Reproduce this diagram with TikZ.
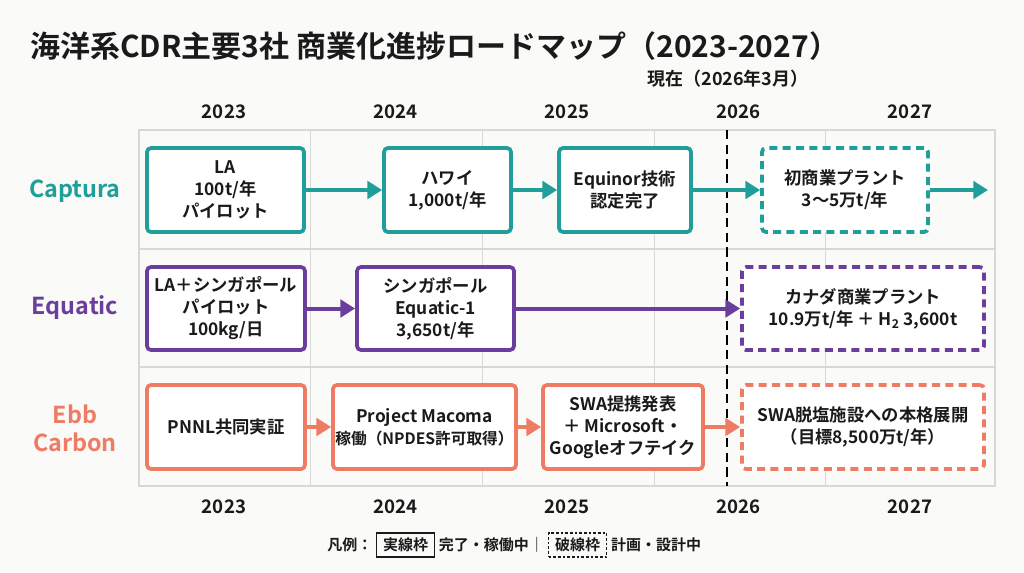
\documentclass[tikz,border=0pt]{standalone}
\usepackage{fontspec}
\setmainfont{Noto Sans CJK JP}[BoldFont={Noto Sans CJK JP Bold}]
\usetikzlibrary{positioning,arrows.meta}
\definecolor{captura}{HTML}{1F9E9A}
\definecolor{equatic}{HTML}{6B3E9E}
\definecolor{ebbcarbon}{HTML}{EE7B63}
\definecolor{gridgray}{HTML}{D8D8D8}
\definecolor{paper}{HTML}{FAFAF8}
\definecolor{ink}{HTML}{1A1A1A}
\newcommand{\px}{0.75pt}

\begin{document}
\begin{tikzpicture}[x=0.75pt,y=-0.75pt,
        every node/.style={text=ink,font=\bfseries},
        stage/.style={draw=#1,line width=2.8pt,rounded corners=3pt,fill=white,align=center,inner sep=0pt,
                font=\bfseries\fontsize{13}{16.5}\selectfont},
        plan/.style={stage=#1,dash pattern=on 6pt off 4pt},
        flow/.style={draw=#1,line width=3pt,-{Triangle[length=11pt,width=13pt]}},
        year/.style={font=\bfseries\fontsize{14}{16}\selectfont},
        company/.style={text=#1,align=center,font=\bfseries\fontsize{17.5}{21}\selectfont},
        legend/.style={inner sep=0pt,font=\bfseries\fontsize{11.25}{13}\selectfont}]
        \fill[paper] (0,0) rectangle (1024,572);
        \node[anchor=west,inner sep=0pt,font=\bfseries\fontsize{22.5}{26}\selectfont] (title) at (30,46)
                {海洋系CDR主要3社 商業化進捗ロードマップ（2023-2027）};
        % grid
        \draw[gridgray,line width=0.8pt] (139,130) rectangle (995,486);
        \foreach \gx in {310,482,654,825} \draw[gridgray,line width=0.6pt] (\gx,130) -- (\gx,486);
        \foreach \gy in {249,367} \draw[gridgray,line width=0.8pt] (139,\gy) -- (995,\gy);
        \foreach \yr [count=\i from 0] in {2023,...,2027} {
                \node[year] (top\yr) at (224+171.5*\i,112) {\yr};
                \node[year] (bot\yr) at (224+171.5*\i,507) {\yr};
        }
        % now line
        \node[font=\bfseries\fontsize{13.5}{16}\selectfont] (now) at (728,79) {現在（2026年3月）};
        \coordinate (nowTop) at (727,130);
        \coordinate (nowBot) at (727,486);
        \draw[black,line width=2pt,dash pattern=on 7pt off 4pt] (nowTop) -- (nowBot);
        % companies
        \node[company=captura] (lblCaptura) at (75,191) {Captura};
        \node[company=equatic] (lblEquatic) at (75,308) {Equatic};
        \node[company=ebbcarbon] (lblEbb) at (75,428) {Ebb\\Carbon};
        % Captura
        \node[stage=captura,minimum width=157*\px,minimum height=84*\px] (cap1) at (225.5,190) {LA\\100t/年\\パイロット};
        \node[stage=captura,minimum width=127*\px,minimum height=84*\px] (cap2) at (447.5,190) {ハワイ\\1,000t/年};
        \node[stage=captura,minimum width=132*\px,minimum height=84*\px] (cap3) at (625,190) {Equinor技術\\認定完了};
        \node[plan=captura,minimum width=166*\px,minimum height=84*\px] (cap4) at (845,190) {初商業プラント\\3〜5万t/年};
        \coordinate (capEnd) at (988,190);
        \draw[flow=captura] (cap1) -- (cap2);
        \draw[flow=captura] (cap2) -- (cap3);
        \draw[flow=captura] (cap3) -- (cap4);
        \draw[flow=captura] (cap4) -- (capEnd);
        % Equatic
        \node[stage=equatic,minimum width=158*\px,minimum height=83*\px] (equ1) at (226,308.5) {LA＋シンガポール\\パイロット\\100kg/日};
        \node[stage=equatic,minimum width=157*\px,minimum height=83*\px] (equ2) at (435.5,308.5) {シンガポール\\Equatic-1\\3,650t/年};
        \node[plan=equatic,minimum width=242*\px,minimum height=83*\px] (equ3) at (863,308.5) {カナダ商業プラント\\10.9万t/年 ＋ H\textsubscript{2} 3,600t};
        \draw[flow=equatic] (equ1) -- (equ2);
        \draw[flow=equatic] (equ2) -- (equ3);
        % Ebb Carbon
        \node[stage=ebbcarbon,minimum width=158*\px,minimum height=84*\px] (ebb1) at (226,427) {PNNL共同実証};
        \node[stage=ebbcarbon,minimum width=183*\px,minimum height=84*\px] (ebb2) at (424.5,427)
                {Project Macoma\\{\fontsize{11.75}{16.5}\selectfont 稼働（NPDES許可取得）}};
        \node[stage=ebbcarbon,minimum width=160*\px,minimum height=84*\px] (ebb3) at (623,427) {SWA提携発表\\＋ Microsoft・\\Googleオフテイク};
        \node[plan=ebbcarbon,minimum width=242*\px,minimum height=84*\px] (ebb4) at (863,427) {SWA脱塩施設への本格展開\\（目標8,500万t/年）};
        \draw[flow=ebbcarbon] (ebb1) -- (ebb2);
        \draw[flow=ebbcarbon] (ebb2) -- (ebb3);
        \draw[flow=ebbcarbon] (ebb3) -- (ebb4);
        % legend
        \node[legend,anchor=west] (legKey) at (327,545) {凡例：};
        \node[legend,draw=ink,line width=0.8pt,inner xsep=5pt,minimum height=18pt,right=2.5pt of legKey] (legSolid) {実線枠};
        \node[legend,right=2.5pt of legSolid] (legDone) {完了・稼働中};
        \node[legend,right=0pt of legDone] (legSep) {｜};
        \node[legend,draw=ink,line width=0.8pt,dash pattern=on 2pt off 1.5pt,inner xsep=5pt,minimum height=18pt,right=2.5pt of legSep] (legDash) {破線枠};
        \node[legend,right=2.5pt of legDash] (legPlan) {計画・設計中};
\end{tikzpicture}
\end{document}
